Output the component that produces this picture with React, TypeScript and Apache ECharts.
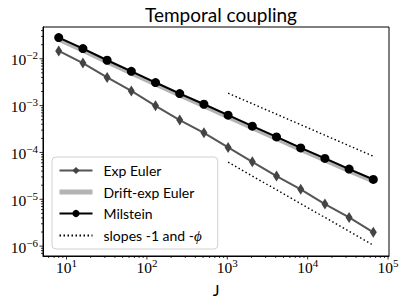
import React, { useEffect, useRef } from "react";
import * as echarts from "echarts";

const J = [8, 16, 32, 64, 128, 256, 512, 1024, 2048, 4096, 8192, 16384, 32768, 65536];
const expEuler = [1.47e-2, 8.1e-3, 4.0e-3, 2.06e-3, 9.9e-4, 4.9e-4, 2.62e-4, 1.28e-4, 6.3e-5, 3.13e-5, 1.63e-5, 7.9e-6, 4.1e-6, 1.97e-6];
const driftExpEuler = [2.62e-2, 1.53e-2, 8.6e-3, 5.0e-3, 2.88e-3, 1.68e-3, 9.9e-4, 5.78e-4, 3.37e-4, 1.99e-4, 1.16e-4, 6.9e-5, 4.09e-5, 2.46e-5];
const milstein = [2.83e-2, 1.65e-2, 9.3e-3, 5.4e-3, 3.11e-3, 1.81e-3, 1.07e-3, 6.24e-4, 3.64e-4, 2.15e-4, 1.25e-4, 7.45e-5, 4.41e-5, 2.65e-5];
const slopeUpperJ = [1024, 65536];
const slopeUpper = [1.84e-3, 8.3e-5];
const slopeLowerJ = [1024, 65536];
const slopeLower = [6.2e-5, 1.05e-6];

const X_MIN = 5.1;
const X_MAX = 102700;
const Y_MIN = 6.15e-7;
const Y_MAX = 0.0477;

const DECADES = [1e-7, 1e-6, 1e-5, 1e-4, 1e-3, 1e-2, 1e-1, 1, 10, 100, 1000, 1e4, 1e5];
const MINOR_MULT = [2, 3, 4, 5, 6, 7, 8, 9];

const NAMES = ["Exp Euler", "Drift-exp Euler", "Milstein", "slopes -1 and -ϕ"];

const SERIF = "'Liberation Serif', 'DejaVu Serif', serif";
const SANS = "Lato, 'Open Sans', sans-serif";

function isDecade(v: number) {
  const e = Math.log10(v);
  return Math.abs(e - Math.round(e)) < 1e-6;
}
function fmt(v: number) {
  if (!isDecade(v)) return "";
  const e = Math.round(Math.log10(v));
  const s = e < 0 ? "\u2212" + Math.abs(e) : String(e);
  return "{b|10}{s|" + s + "}";
}

export default function App() {
  const ref = useRef<HTMLDivElement>(null);
  useEffect(() => {
    if (!ref.current) return;
    const chart = echarts.init(ref.current, undefined, { renderer: "svg" });

    const xTicks: number[][] = [];
    const yTicks: number[][] = [];
    DECADES.forEach((d) => {
      if (d >= X_MIN && d <= X_MAX) xTicks.push([d, Y_MIN, 1]);
      if (d >= Y_MIN && d <= Y_MAX) yTicks.push([X_MIN, d, 1]);
      MINOR_MULT.forEach((m) => {
        const v = d * m;
        if (v >= X_MIN && v <= X_MAX) xTicks.push([v, Y_MIN, 0]);
        if (v >= Y_MIN && v <= Y_MAX) yTicks.push([X_MIN, v, 0]);
      });
    });

    const rich = {
      b: { fontFamily: SERIF, fontSize: 15.5, color: "#000", lineHeight: 18, verticalAlign: "bottom" },
      s: { fontFamily: SERIF, fontSize: 11, color: "#000", lineHeight: 18, verticalAlign: "bottom", padding: [0, 0, 7, 0] },
    };

    const slopeData: any[] = [
      [slopeUpperJ[0], slopeUpper[0]],
      [slopeUpperJ[1], slopeUpper[1]],
      ["-", "-"],
      [slopeLowerJ[0], slopeLower[0]],
      [slopeLowerJ[1], slopeLower[1]],
    ];

    chart.setOption({
      animation: false,
      title: {
        text: "Temporal coupling",
        left: 216,
        textAlign: "center",
        top: 0,
        textStyle: { fontFamily: SANS, fontSize: 19, fontWeight: "normal", color: "#000" },
      },
      grid: { left: 43, right: 18, top: 27, bottom: 50, show: true, borderColor: "#000", borderWidth: 1, backgroundColor: "transparent" },
      xAxis: {
        type: "log",
        min: X_MIN,
        max: X_MAX,
        splitNumber: 5,
        name: "J",
        nameLocation: "middle",
        nameGap: 25,
        nameTextStyle: { fontFamily: SANS, fontSize: 16, color: "#000" },
        axisLine: { show: true, lineStyle: { color: "#000", width: 1 } },
        axisTick: { show: false },
        splitLine: { show: false },
        axisLabel: { formatter: fmt, rich, margin: 1, showMinLabel: false, showMaxLabel: true },
      },
      yAxis: {
        type: "log",
        min: Y_MIN,
        max: Y_MAX,
        splitNumber: 5,
        axisLine: { show: true, lineStyle: { color: "#000", width: 1 } },
        axisTick: { show: false },
        splitLine: { show: false },
        axisLabel: { formatter: fmt, rich, margin: 5 },
      },
      legend: {
        data: [
          { name: NAMES[0] },
          { name: NAMES[1], itemStyle: { opacity: 0 }, lineStyle: { width: 5, color: "#b3b3b3" } },
          { name: NAMES[2] },
          { name: NAMES[3], itemStyle: { opacity: 0 } },
        ],
        orient: "vertical",
        left: 52,
        top: 157,
        itemWidth: 33,
        itemHeight: 9,
        itemGap: 7.5,
        padding: [6.5, 16, 6, 5],
        borderColor: "#d0d0d0",
        borderWidth: 1,
        borderRadius: 4,
        backgroundColor: "rgba(255,255,255,0.8)",
        textStyle: {
          fontFamily: SANS,
          fontSize: 14,
          lineHeight: 14,
          color: "#000",
          padding: [0, 0, 0, 6],
          rich: {
            t: { fontFamily: SANS, fontSize: 14, lineHeight: 14, color: "#000" },
            p: { fontFamily: SERIF, fontSize: 15, lineHeight: 14, fontStyle: "italic", color: "#000" },
          },
        },
        formatter: (name: string) => (name === NAMES[3] ? "{t|slopes -1 and -}{p|ϕ}" : name),
      },
      series: [
        {
          name: NAMES[0],
          type: "line",
          data: J.map((j, i) => [j, expEuler[i]]),
          symbol: "diamond",
          symbolSize: [7, 11],
          lineStyle: { color: "#555555", width: 2 },
          itemStyle: { color: "#444444" },
          z: 3,
        },
        {
          name: NAMES[1],
          type: "line",
          data: J.map((j, i) => [j, driftExpEuler[i]]),
          symbol: "none",
          showSymbol: false,
          lineStyle: { color: "#b3b3b3", width: 5 },
          itemStyle: { color: "#b3b3b3" },
          z: 2,
        },
        {
          name: NAMES[2],
          type: "line",
          data: J.map((j, i) => [j, milstein[i]]),
          symbol: "circle",
          symbolSize: 9,
          lineStyle: { color: "#000", width: 2 },
          itemStyle: { color: "#000" },
          z: 4,
        },
        {
          name: NAMES[3],
          type: "line",
          data: slopeData,
          connectNulls: false,
          symbol: "none",
          showSymbol: false,
          lineStyle: { color: "#000", width: 1.4, type: [1.5, 2.5] },
          itemStyle: { color: "#000" },
          z: 3,
        },
        {
          type: "custom",
          data: xTicks,
          silent: true,
          clip: false,
          renderItem: (params: any, api: any) => {
            const p = api.coord([api.value(0), api.value(1)]);
            const len = api.value(2) ? 3.5 : 2;
            return { type: "line", shape: { x1: p[0], y1: p[1], x2: p[0], y2: p[1] + len }, style: { stroke: "#000", lineWidth: 0.8 } };
          },
        },
        {
          type: "custom",
          data: yTicks,
          silent: true,
          clip: false,
          renderItem: (params: any, api: any) => {
            const p = api.coord([api.value(0), api.value(1)]);
            const len = api.value(2) ? 3.5 : 2;
            return { type: "line", shape: { x1: p[0], y1: p[1], x2: p[0] - len, y2: p[1] }, style: { stroke: "#000", lineWidth: 0.8 } };
          },
        },
      ],
    });
    return () => chart.dispose();
  }, []);
  return <div ref={ref} style={{ width: 407, height: 306, position: "absolute", left: 0, top: 0 }} />;
}
